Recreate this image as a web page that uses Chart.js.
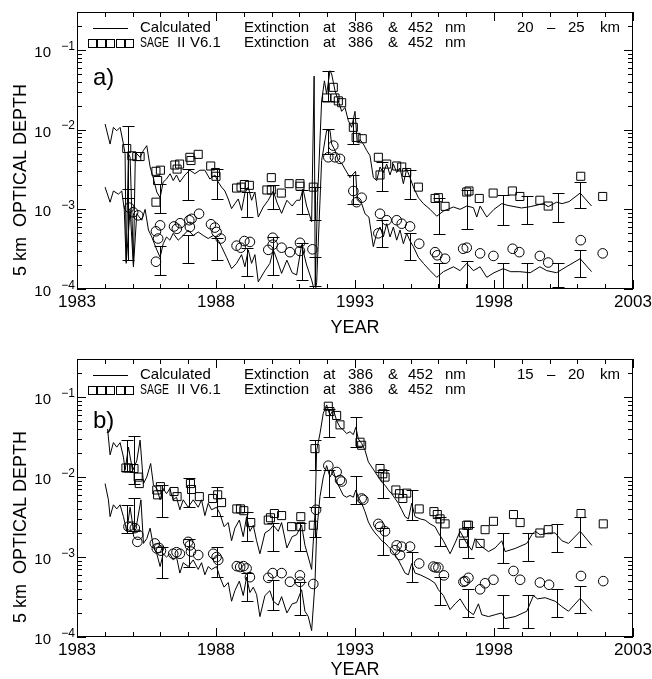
<!DOCTYPE html>
<html><head><meta charset="utf-8">
<script src="https://cdn.jsdelivr.net/npm/chart.js@4.4.1/dist/chart.umd.min.js"></script>
<style>
html,body{margin:0;padding:0;background:#fff;overflow:hidden;width:652px;height:679px;position:relative;}
canvas{position:absolute;left:0;}
#ca{top:0;width:652px;height:340px;}
#cb{top:340px;width:652px;height:345px;}
</style></head><body>
<canvas id="ca" width="652" height="340"></canvas>
<canvas id="cb" width="652" height="345"></canvas>
<script>
// ---------- tick labels & texts ----------
const yearTicks = [1983, 1988, 1993, 1998, 2003];
const decadeTicks = [1e-4, 1e-3, 1e-2, 1e-1];
const decadeExp = ['\u22124', '\u22123', '\u22122', '\u22121'];
const yTitle = '5 km  OPTICAL DEPTH';
const xTitle = 'YEAR';
const legendCalc = 'Calculated';
const legendSage = ['SAGE', 'II', 'V6.1'];
const legendExt = ['Extinction', 'at', '386', '&', '452', 'nm'];
const rangeA = ['20', '\u2013', '25', 'km'];
const rangeB = ['15', '\u2013', '20', 'km'];

// ---------- panel a (20-25 km) ----------
const aCalc386 = [[1984.01,0.0118],[1984.19,0.0066],[1984.31,0.0107],[1984.43,0.0097],[1984.55,0.0107],[1984.67,0.0066],[1984.73,0.005],[1984.77,0.00022],[1984.85,0.005],[1984.91,0.0045],[1985.03,0.00021],[1985.10,0.0052],[1985.27,0.0045],[1985.39,0.0055],[1985.51,0.0063],[1985.63,0.0034],[1985.74,0.0025],[1985.87,0.00165],[1985.99,0.0014],[1986.10,0.0022],[1986.22,0.0024],[1986.35,0.0028],[1986.46,0.0023],[1986.58,0.0027],[1986.70,0.0022],[1986.88,0.0027],[1987.06,0.0031],[1987.24,0.0028],[1987.42,0.0031],[1987.60,0.0031],[1987.78,0.0024],[1987.96,0.0027],[1988.08,0.0022],[1988.20,0.0019],[1988.32,0.0017],[1988.44,0.00135],[1988.56,0.00102],[1988.68,0.00118],[1988.80,0.00135],[1988.92,0.00097],[1989.04,0.0016],[1989.16,0.0019],[1989.28,0.0013],[1989.40,0.00165],[1989.52,0.0008],[1989.70,0.00107],[1989.88,0.0013],[1990.06,0.0017],[1990.20,0.0012],[1990.36,0.00089],[1990.55,0.0013],[1990.74,0.0011],[1990.90,0.0013],[1991.02,0.0013],[1991.13,0.0018],[1991.26,0.0011],[1991.44,0.0007],[1991.53,0.047],[1991.57,0.00011],[1991.65,0.0013],[1991.80,0.023],[1991.90,0.041],[1991.98,0.028],[1992.10,0.055],[1992.16,0.05],[1992.28,0.031],[1992.40,0.023],[1992.52,0.017],[1992.64,0.019],[1992.76,0.013],[1992.88,0.0107],[1993.00,0.017],[1993.08,0.0069],[1993.18,0.0075],[1993.30,0.0066],[1993.42,0.0055],[1993.54,0.0047],[1993.66,0.0025],[1993.78,0.0023],[1993.90,0.0034],[1994.02,0.0029],[1994.14,0.0037],[1994.26,0.0027],[1994.38,0.0037],[1994.50,0.0029],[1994.62,0.0033],[1994.74,0.0021],[1994.86,0.0032],[1994.98,0.0025],[1995.10,0.0019],[1995.28,0.0014],[1995.46,0.00118],[1995.70,0.001],[1995.94,0.00082],[1996.18,0.00095],[1996.54,0.00107],[1996.78,0.001],[1997.02,0.0011],[1997.26,0.00105],[1997.38,0.0008],[1997.50,0.0011],[1997.74,0.0008],[1998.00,0.001],[1998.28,0.00118],[1998.50,0.00112],[1998.99,0.00104],[1999.30,0.00108],[1999.78,0.00118],[1999.95,0.00108],[2000.25,0.00123],[2000.45,0.00118],[2000.70,0.00125],[2001.10,0.0016],[2001.51,0.0011]];
const aCalc452 = [[1984.01,0.0019],[1984.19,0.00123],[1984.31,0.0017],[1984.49,0.00155],[1984.61,0.0017],[1984.70,0.001],[1984.77,0.00021],[1984.91,0.001],[1985.03,0.00019],[1985.15,0.00088],[1985.33,0.00073],[1985.45,0.001],[1985.57,0.00055],[1985.69,0.00045],[1985.87,0.00031],[1985.99,0.00025],[1986.10,0.00037],[1986.22,0.00045],[1986.34,0.00041],[1986.46,0.0005],[1986.64,0.00041],[1986.82,0.00047],[1987.00,0.00055],[1987.18,0.00047],[1987.36,0.00052],[1987.54,0.00047],[1987.72,0.00043],[1987.90,0.00047],[1988.08,0.00041],[1988.20,0.00034],[1988.38,0.00025],[1988.56,0.00018],[1988.74,0.00021],[1988.92,0.00027],[1989.04,0.00019],[1989.16,0.00031],[1989.28,0.00021],[1989.40,0.00027],[1989.52,0.000123],[1989.76,0.00017],[1989.94,0.00021],[1990.06,0.00031],[1990.20,0.00023],[1990.36,0.000157],[1990.55,0.00023],[1990.74,0.00016],[1990.90,0.00015],[1991.08,0.00036],[1991.26,0.0002],[1991.44,0.00013],[1991.56,0.00009],[1991.62,0.00012],[1991.80,0.0041],[1991.98,0.0098],[1992.10,0.0098],[1992.16,0.0066],[1992.28,0.0055],[1992.40,0.0041],[1992.52,0.0038],[1992.64,0.0032],[1992.82,0.0025],[1993.02,0.003],[1993.08,0.0014],[1993.24,0.00118],[1993.36,0.00088],[1993.50,0.0008],[1993.66,0.00034],[1993.78,0.0005],[1993.90,0.0006],[1994.02,0.00045],[1994.14,0.00066],[1994.26,0.00045],[1994.38,0.0006],[1994.50,0.00041],[1994.62,0.00055],[1994.74,0.00037],[1994.86,0.0005],[1994.98,0.0004],[1995.10,0.00034],[1995.28,0.00025],[1995.46,0.00021],[1995.70,0.00017],[1995.94,0.00014],[1996.18,0.000165],[1996.54,0.00019],[1996.78,0.00017],[1997.02,0.00021],[1997.26,0.00017],[1997.50,0.00019],[1997.74,0.00014],[1998.00,0.00016],[1998.33,0.00018],[1998.60,0.000165],[1998.93,0.000165],[1999.30,0.00016],[1999.65,0.00019],[1999.90,0.00017],[2000.25,0.00016],[2000.60,0.00019],[2001.10,0.00024],[2001.51,0.000165]];
const aSage386 = [[1984.79,0.0058],[1984.97,0.0047],[1985.15,0.0046],[1985.27,0.0046],[1985.84,0.003],[1985.90,0.0023],[1985.84,0.00123],[1986.00,0.0031],[1986.52,0.0036],[1986.60,0.0032],[1986.69,0.0037],[1987.06,0.0045],[1987.10,0.0041],[1987.36,0.0049],[1987.81,0.0035],[1987.98,0.0029],[1988.00,0.0026],[1988.74,0.00185],[1988.90,0.0019],[1989.02,0.00205],[1989.20,0.002],[1989.83,0.00175],[1989.99,0.0025],[1989.99,0.00175],[1990.35,0.0016],[1990.63,0.0021],[1991.02,0.0021],[1991.02,0.00195],[1991.50,0.0019],[1991.98,0.025],[1992.22,0.034],[1992.28,0.025],[1992.40,0.023],[1992.52,0.0218],[1992.94,0.0107],[1993.04,0.008],[1993.26,0.0077],[1993.84,0.0045],[1993.90,0.0027],[1994.14,0.0037],[1994.50,0.0035],[1994.68,0.0034],[1994.86,0.0029],[1995.28,0.0019],[1995.88,0.00137],[1996.00,0.0014],[1996.24,0.00109],[1997.02,0.00165],[1997.10,0.0017],[1997.47,0.00137],[1997.97,0.0016],[1998.66,0.0017],[1998.93,0.00145],[1999.65,0.0013],[1999.95,0.0011],[2001.12,0.0026],[2001.91,0.00145]];
const aSage452 = [[1984.88,0.00105],[1985.02,0.00092],[1985.20,0.00084],[1985.84,0.00053],[1985.99,0.00063],[1985.92,0.00043],[1985.84,0.00022],[1986.49,0.00061],[1986.59,0.00057],[1986.71,0.00067],[1987.04,0.00073],[1987.06,0.0006],[1987.12,0.00076],[1987.39,0.00088],[1987.82,0.00065],[1987.96,0.00059],[1988.02,0.00052],[1988.17,0.00043],[1988.74,0.00035],[1988.89,0.00033],[1989.02,0.0004],[1989.22,0.00039],[1989.88,0.00031],[1990.04,0.00044],[1990.04,0.00036],[1990.36,0.00033],[1990.66,0.00029],[1991.02,0.00038],[1991.02,0.0003],[1991.47,0.000315],[1992.04,0.0045],[1992.22,0.0063],[1992.28,0.0045],[1992.46,0.0043],[1992.94,0.0017],[1993.06,0.00123],[1993.24,0.0014],[1993.90,0.00088],[1993.84,0.0005],[1994.14,0.00073],[1994.50,0.00073],[1994.68,0.00066],[1994.98,0.00061],[1995.31,0.00037],[1995.88,0.00029],[1995.96,0.000265],[1996.24,0.00024],[1996.89,0.00032],[1997.02,0.00033],[1997.50,0.00028],[1997.98,0.00026],[1998.67,0.00032],[1998.91,0.00029],[1999.65,0.00026],[1999.95,0.000215],[2001.12,0.00041],[2001.91,0.00028]];
const aErrYears = [1984.85,1985.99,1987.0,1988.02,1989.1,1990.06,1991.08,1991.56,1992.04,1992.94,1993.96,1994.98,1996.03,1997.02,1998.31,1999.2,2000.29,2001.09];
const aErr386Lo = [0.0014,0.0009,0.0013,0.00135,0.00081,0.001,0.00088,0.00073,0.023,0.0066,0.0017,0.00133,0.00049,0.00057,0.00063,0.00065,0.0007,0.00103];
const aErr386Hi = [0.011,0.0021,0.0032,0.0032,0.00165,0.002,0.00175,0.0019,0.055,0.0142,0.0039,0.0031,0.0014,0.00175,0.0015,0.00145,0.0016,0.0022];
const aErr452Lo = [0.00023,0.00015,0.000215,0.00023,0.000145,0.00015,0.00013,0.00011,0.005,0.00118,0.00034,0.00023,0.0001,0.000102,0.0001,0.0001,0.000105,0.00014];
const aErr452Hi = [0.0018,0.00035,0.00048,0.00044,0.00033,0.00045,0.00038,0.00025,0.0101,0.0027,0.00073,0.00051,0.00021,0.000225,0.000215,0.00021,0.000215,0.00031];

// ---------- panel b (15-20 km) ----------
const bCalc386 = [[1984.10,0.040],[1984.19,0.019],[1984.31,0.027],[1984.43,0.0237],[1984.55,0.027],[1984.67,0.0178],[1984.73,0.0122],[1984.85,0.0237],[1985.00,0.012],[1985.15,0.016],[1985.27,0.029],[1985.39,0.0083],[1985.51,0.01],[1985.65,0.0148],[1985.75,0.008],[1985.87,0.0072],[1985.99,0.0052],[1986.10,0.0072],[1986.22,0.0062],[1986.34,0.0072],[1986.46,0.0052],[1986.58,0.0056],[1986.70,0.0039],[1986.82,0.0052],[1987.00,0.0042],[1987.18,0.0052],[1987.36,0.0042],[1987.48,0.0052],[1987.60,0.0033],[1987.72,0.0047],[1987.84,0.0039],[1988.02,0.0042],[1988.14,0.0035],[1988.29,0.0024],[1988.44,0.0027],[1988.56,0.0016],[1988.68,0.0023],[1988.84,0.0029],[1988.98,0.0018],[1989.10,0.0032],[1989.22,0.0021],[1989.34,0.0025],[1989.46,0.0016],[1989.58,0.0011],[1989.76,0.002],[1989.94,0.0022],[1990.06,0.0025],[1990.24,0.0021],[1990.36,0.0027],[1990.55,0.0013],[1990.74,0.0018],[1990.90,0.0019],[1991.08,0.0025],[1991.20,0.0014],[1991.32,0.001],[1991.44,0.0007],[1991.56,0.0035],[1991.62,0.0216],[1991.74,0.035],[1991.86,0.063],[1991.98,0.08],[1992.10,0.059],[1992.22,0.07],[1992.34,0.051],[1992.46,0.042],[1992.58,0.039],[1992.70,0.035],[1992.82,0.037],[1992.94,0.034],[1993.03,0.042],[1993.12,0.03],[1993.24,0.0264],[1993.36,0.0216],[1993.48,0.0155],[1993.60,0.0134],[1993.72,0.0116],[1993.84,0.01],[1993.96,0.0087],[1994.08,0.0079],[1994.20,0.0069],[1994.32,0.0062],[1994.44,0.0054],[1994.56,0.0047],[1994.68,0.0039],[1994.80,0.0032],[1994.92,0.003],[1995.04,0.0047],[1995.16,0.0032],[1995.34,0.003],[1995.52,0.0029],[1995.70,0.0026],[1995.88,0.0024],[1996.00,0.002],[1996.18,0.0016],[1996.42,0.0011],[1996.60,0.0015],[1996.78,0.0021],[1997.02,0.00148],[1997.20,0.00122],[1997.32,0.0017],[1997.50,0.0014],[1997.80,0.00117],[1998.04,0.0013],[1998.28,0.0016],[1998.40,0.00117],[1998.76,0.00128],[1999.18,0.00148],[1999.36,0.0019],[1999.48,0.0021],[1999.66,0.0019],[1999.96,0.002],[2000.20,0.002],[2000.44,0.0016],[2000.68,0.00148],[2001.10,0.0021],[2001.52,0.0014]];
const bCalc452 = [[1984.01,0.0083],[1984.13,0.0052],[1984.19,0.0032],[1984.31,0.0045],[1984.43,0.004],[1984.55,0.0045],[1984.67,0.0032],[1984.79,0.0021],[1984.91,0.0042],[1985.03,0.0022],[1985.15,0.0026],[1985.30,0.0052],[1985.39,0.00148],[1985.51,0.0017],[1985.63,0.0023],[1985.75,0.00135],[1985.87,0.0011],[1985.99,0.00076],[1986.10,0.0011],[1986.22,0.001],[1986.34,0.0011],[1986.46,0.00092],[1986.58,0.001],[1986.70,0.00063],[1986.82,0.00085],[1987.00,0.00076],[1987.18,0.00092],[1987.36,0.0007],[1987.48,0.00085],[1987.60,0.0006],[1987.72,0.00076],[1987.84,0.0007],[1988.02,0.00076],[1988.14,0.00056],[1988.29,0.00042],[1988.44,0.00048],[1988.56,0.00028],[1988.68,0.00038],[1988.84,0.0005],[1988.98,0.00033],[1989.10,0.00056],[1989.22,0.00036],[1989.34,0.00042],[1989.46,0.00034],[1989.58,0.00018],[1989.76,0.00033],[1989.94,0.00038],[1990.06,0.00028],[1990.24,0.00025],[1990.36,0.00032],[1990.55,0.0002],[1990.74,0.00026],[1990.90,0.00027],[1991.08,0.00039],[1991.20,0.00021],[1991.32,0.00018],[1991.44,0.00012],[1991.56,0.00047],[1991.62,0.002],[1991.74,0.0057],[1991.86,0.01],[1991.98,0.0139],[1992.10,0.01],[1992.22,0.012],[1992.34,0.0087],[1992.46,0.0072],[1992.58,0.0059],[1992.70,0.0056],[1992.82,0.0059],[1992.94,0.0056],[1993.03,0.0069],[1993.12,0.0056],[1993.24,0.0047],[1993.36,0.0037],[1993.48,0.00275],[1993.60,0.0023],[1993.72,0.002],[1993.84,0.0018],[1993.96,0.0016],[1994.08,0.0015],[1994.20,0.00135],[1994.32,0.00122],[1994.44,0.00106],[1994.56,0.00092],[1994.68,0.00076],[1994.80,0.00063],[1994.92,0.0006],[1995.04,0.00083],[1995.16,0.00063],[1995.34,0.0006],[1995.52,0.00056],[1995.70,0.00052],[1995.88,0.00047],[1996.00,0.00039],[1996.18,0.00033],[1996.42,0.00022],[1996.60,0.00026],[1996.78,0.0003],[1997.02,0.00022],[1997.26,0.00019],[1997.44,0.00026],[1997.56,0.00019],[1997.80,0.00018],[1998.04,0.00019],[1998.28,0.0002],[1998.40,0.00017],[1998.76,0.00018],[1999.18,0.00021],[1999.42,0.00033],[1999.56,0.0003],[1999.84,0.00031],[2000.20,0.00028],[2000.44,0.00024],[2000.68,0.00021],[2001.10,0.000305],[2001.52,0.00021]];
const bSage386 = [[1984.76,0.013],[1984.85,0.013],[1985.05,0.0128],[1985.20,0.01],[1985.24,0.0083],[1985.87,0.0069],[1985.90,0.006],[1986.00,0.0076],[1986.49,0.0066],[1986.60,0.0057],[1987.08,0.0083],[1987.12,0.007],[1987.40,0.0057],[1987.88,0.0054],[1988.06,0.006],[1988.20,0.0048],[1988.75,0.004],[1988.88,0.004],[1989.00,0.0038],[1989.25,0.0027],[1989.88,0.0029],[1989.96,0.0031],[1990.10,0.0035],[1990.36,0.0033],[1990.72,0.0024],[1991.05,0.0032],[1991.05,0.0024],[1991.50,0.0025],[1991.56,0.0227],[1992.04,0.077],[1992.10,0.066],[1992.34,0.059],[1992.46,0.045],[1993.18,0.0273],[1993.24,0.025],[1993.90,0.0128],[1994.00,0.011],[1994.08,0.01],[1994.47,0.0069],[1994.60,0.0062],[1994.72,0.0054],[1994.86,0.0063],[1995.31,0.004],[1995.84,0.0037],[1995.96,0.0034],[1996.06,0.003],[1996.24,0.0026],[1996.90,0.002],[1996.90,0.00148],[1997.02,0.0025],[1997.08,0.0025],[1997.50,0.00148],[1997.68,0.0022],[1997.98,0.0028],[1998.70,0.0034],[1998.94,0.0027],[1999.65,0.002],[1999.95,0.0022],[2001.13,0.0035],[2001.93,0.0026]];
const bSage452 = [[1984.85,0.0024],[1984.97,0.0024],[1985.08,0.0023],[1985.20,0.0019],[1985.17,0.00155],[1985.80,0.00148],[1985.87,0.00128],[1985.95,0.0013],[1986.02,0.0012],[1986.46,0.0011],[1986.58,0.00115],[1986.70,0.0011],[1987.00,0.00155],[1987.06,0.0014],[1987.10,0.00117],[1987.36,0.00106],[1987.90,0.0011],[1988.02,0.001],[1988.08,0.00092],[1988.75,0.00077],[1988.87,0.00075],[1988.99,0.00077],[1989.10,0.00072],[1989.22,0.00056],[1989.88,0.00055],[1990.04,0.00063],[1990.36,0.00063],[1990.66,0.00049],[1991.02,0.00059],[1991.02,0.00049],[1991.50,0.00046],[1991.60,0.0039],[1992.04,0.0139],[1992.34,0.0116],[1992.46,0.0092],[1992.52,0.0088],[1993.24,0.0054],[1993.30,0.0052],[1993.84,0.0026],[1993.90,0.0024],[1994.08,0.0021],[1994.50,0.0014],[1994.44,0.00122],[1994.62,0.00106],[1994.68,0.00135],[1994.98,0.00135],[1995.31,0.00083],[1995.82,0.00076],[1995.90,0.00074],[1996.00,0.00074],[1996.20,0.00059],[1996.90,0.00049],[1996.96,0.0005],[1997.08,0.00055],[1997.50,0.000395],[1997.68,0.00047],[1997.98,0.00052],[1998.70,0.00067],[1998.94,0.00052],[1999.65,0.00048],[1999.98,0.00045],[2001.13,0.00058],[2001.93,0.0005]];
const bErrYears = [1984.8,1985.05,1986.05,1987.03,1988.02,1989.1,1990.04,1991.02,1991.56,1992.08,1993.04,1994.02,1995.04,1996.06,1997.05,1998.31,1999.21,2000.26,2001.09];
const bErr386Lo = [0.012,0.0083,0.0032,0.0042,0.0033,0.0016,0.0012,0.0012,0.0122,0.0316,0.024,0.0054,0.0029,0.00137,0.00097,0.00085,0.00088,0.00114,0.00135];
const bErr386Hi = [0.029,0.033,0.0079,0.0097,0.0076,0.0037,0.0027,0.0027,0.029,0.072,0.057,0.0122,0.0069,0.0032,0.0024,0.002,0.002,0.0026,0.0032];
const bErr452Lo = [0.002,0.0021,0.00054,0.00076,0.00056,0.00028,0.00022,0.00019,0.0018,0.0057,0.0046,0.00106,0.00049,0.00025,0.000176,0.00013,0.000128,0.000176,0.0002];
const bErr452Hi = [0.0045,0.0054,0.00135,0.0017,0.00135,0.00063,0.00052,0.00049,0.0042,0.0122,0.0102,0.0023,0.00117,0.00056,0.0004,0.00034,0.00034,0.0004,0.00043];

// ---------- rendering ----------
const FONT = "'Liberation Sans', Arial, sans-serif";
const toXY = arr => arr.map(p => ({x: p[0], y: p[1]}));

const framePlugin = {
  id: 'frame',
  afterDatasetsDraw(chart, args, o) {
    const ctx = chart.ctx, ca = chart.chartArea, xs = chart.scales.x, ys = chart.scales.y;
    // error bars
    ctx.save();
    ctx.beginPath();
    ctx.rect(ca.left, ca.top, ca.right - ca.left, ca.bottom - ca.top);
    ctx.clip();
    ctx.strokeStyle = '#000'; ctx.lineWidth = 1;
    o.errors.forEach(set => {
      o.errYears.forEach((yr, i) => {
        const x = Math.round(xs.getPixelForValue(yr)) + 0.5;
        const y1 = Math.round(ys.getPixelForValue(set[0][i])) + 0.5;
        const y2 = Math.round(ys.getPixelForValue(set[1][i])) + 0.5;
        ctx.beginPath();
        ctx.moveTo(x, y1); ctx.lineTo(x, y2);
        ctx.moveTo(x - 6, y1); ctx.lineTo(x + 6, y1);
        ctx.moveTo(x - 6, y2); ctx.lineTo(x + 6, y2);
        ctx.stroke();
      });
    });
    ctx.restore();

    ctx.save();
    ctx.strokeStyle = '#000'; ctx.fillStyle = '#000'; ctx.lineWidth = 1;
    const L = ca.left, R = ca.right, T = ca.top, B = ca.bottom;
    // frame
    ctx.strokeRect(L + 0.5, T + 0.5, R - L - 1, B - T - 1);
    // x ticks (inward, top and bottom)
    ctx.beginPath();
    for (let yr = xs.min; yr <= xs.max; yr++) {
      const x = Math.round(xs.getPixelForValue(yr)) + 0.5;
      const len = yearTicks.includes(yr) ? 9 : 5;
      ctx.moveTo(x, B); ctx.lineTo(x, B - len);
      ctx.moveTo(x, T); ctx.lineTo(x, T + len);
    }
    // y ticks (inward, left and right)
    for (let d = -4; d <= -1; d++) {
      for (let k = 1; k <= 9; k++) {
        const v = k * Math.pow(10, d);
        if (v > ys.max + 1e-12) continue;
        const y = Math.round(ys.getPixelForValue(v)) + 0.5;
        const len = k === 1 ? 9 : 5;
        ctx.moveTo(L, y); ctx.lineTo(L + len, y);
        ctx.moveTo(R, y); ctx.lineTo(R - len, y);
      }
    }
    ctx.stroke();
    // y tick labels
    decadeTicks.forEach((v, i) => {
      const y = ys.getPixelForValue(v);
      ctx.textAlign = 'right'; ctx.textBaseline = 'middle';
      ctx.font = '15px ' + FONT;
      ctx.fillText('10', 51, y + 3);
      ctx.font = '12px ' + FONT;
      ctx.fillText(decadeExp[i], 75, y - 3.5);
    });
    // y title
    ctx.save();
    ctx.translate(21, T + 168);
    ctx.rotate(-Math.PI / 2);
    ctx.textAlign = 'center'; ctx.textBaseline = 'middle';
    ctx.font = '18px ' + FONT;
    ctx.fillText(yTitle, 0, 0);
    ctx.restore();
    // legend
    ctx.font = '15px ' + FONT; ctx.textAlign = 'left'; ctx.textBaseline = 'middle';
    const y1 = T + 16, y2 = T + 31;
    ctx.beginPath(); ctx.moveTo(93, y1 + 0.5); ctx.lineTo(128, y1 + 0.5); ctx.stroke();
    for (let i = 0; i < 5; i++) {
      const cx = 91.5 + i * 9.4;
      ctx.strokeRect(Math.round(cx - 4) + 0.5, Math.round(y2 - 4) + 0.5, 8, 8);
    }
    ctx.fillText(legendCalc, 140, y1);
    ctx.fillText(legendSage[0], 140, y2, 29);
    ctx.fillText(legendSage[1], 177, y2);
    ctx.fillText(legendSage[2], 190, y2, 37);
    [244, 323, 348, 388, 408, 445].forEach((x, i) => {
      ctx.fillText(legendExt[i], x, y1);
      ctx.fillText(legendExt[i], x, y2);
    });
    [517, 547, 568, 600].forEach((x, i) => ctx.fillText(o.range[i], x, y1));
    // panel label
    ctx.font = '24px ' + FONT;
    ctx.fillText(o.panel, 93, T + o.panelDy);
    ctx.restore();
  }
};

function makeChart(id, H, top, bottom, d) {
  return new Chart(document.getElementById(id), {
    type: 'scatter',
    data: {
      datasets: [
        {label: 'Calculated 386 nm', data: toXY(d.c386), showLine: true, borderColor: '#000', borderWidth: 1, pointRadius: 0, tension: 0},
        {label: 'Calculated 452 nm', data: toXY(d.c452), showLine: true, borderColor: '#000', borderWidth: 1, pointRadius: 0, tension: 0},
        {label: 'SAGE II V6.1 386 nm', data: toXY(d.s386), showLine: false, pointStyle: 'rect', pointRadius: 5.7, borderColor: '#000', borderWidth: 1, backgroundColor: 'rgba(0,0,0,0)'},
        {label: 'SAGE II V6.1 452 nm', data: toXY(d.s452), showLine: false, pointStyle: 'circle', pointRadius: 4.8, borderColor: '#000', borderWidth: 1, backgroundColor: 'rgba(0,0,0,0)'}
      ]
    },
    options: {
      responsive: false, animation: false, events: [],
      layout: {padding: {top: top, right: 19, left: 0, bottom: 0}},
      plugins: {
        legend: {display: false}, tooltip: {enabled: false},
        frame: {errYears: d.errYears, errors: d.errors, range: d.range, panel: d.panel, panelDy: d.panelDy}
      },
      scales: {
        x: {
          type: 'linear', min: 1983, max: 2003,
          afterBuildTicks: s => { s.ticks = yearTicks.map(v => ({value: v})); },
          afterFit: s => { s.height = H - bottom; s.paddingLeft = 0; s.paddingRight = 0; },
          grid: {display: false, drawTicks: false}, border: {display: false},
          ticks: {font: {family: FONT, size: 17}, color: '#000', padding: 3, maxRotation: 0, autoSkip: false, callback: v => String(v)},
          title: {display: true, text: xTitle, color: '#000', font: {family: FONT, size: 18}, padding: {top: 0, bottom: d.titlePad}}
        },
        y: {
          type: 'logarithmic', min: 1e-4, max: 0.3,
          afterFit: s => { s.width = 77; s.paddingTop = 0; s.paddingBottom = 0; },
          ticks: {display: false}, grid: {display: false}, border: {display: false}
        }
      }
    },
    plugins: [framePlugin]
  });
}

makeChart('ca', 340, 12, 289, {
  c386: aCalc386, c452: aCalc452, s386: aSage386, s452: aSage452,
  errYears: aErrYears, errors: [[aErr386Lo, aErr386Hi], [aErr452Lo, aErr452Hi]],
  range: rangeA, panel: 'a)', panelDy: 66, titlePad: 1
});
makeChart('cb', 345, 19, 297, {
  c386: bCalc386, c452: bCalc452, s386: bSage386, s452: bSage452,
  errYears: bErrYears, errors: [[bErr386Lo, bErr386Hi], [bErr452Lo, bErr452Hi]],
  range: rangeB, panel: 'b)', panelDy: 62, titlePad: 4
});
</script>
</body></html>
